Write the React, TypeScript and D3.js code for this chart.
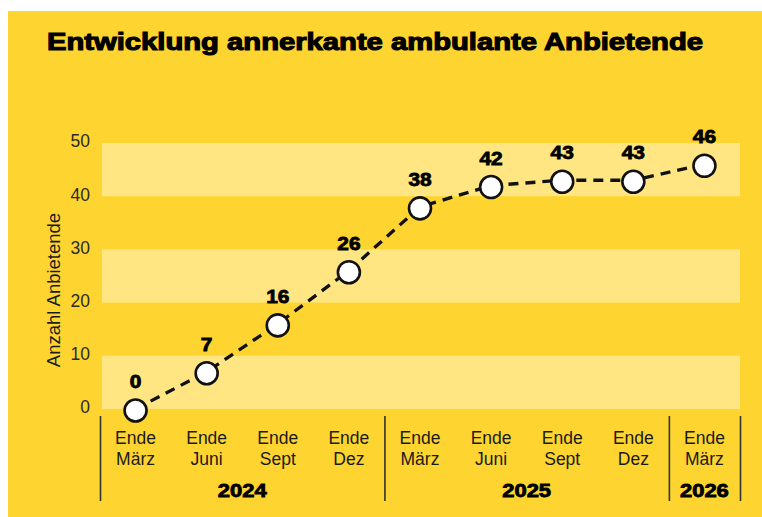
import * as d3 from 'd3';

const categories = ['2024-03', '2024-06', '2024-09', '2024-12', '2025-03', '2025-06', '2025-09', '2025-12', '2026-03'];
const monthLabels = ['März', 'Juni', 'Sept', 'Dez', 'März', 'Juni', 'Sept', 'Dez', 'März'];
const values = [0, 7, 16, 26, 38, 42, 43, 43, 46];
const yTicks = [0, 10, 20, 30, 40, 50];
const years = [
  { label: '2024', from: 0, to: 3 },
  { label: '2025', from: 4, to: 7 },
  { label: '2026', from: 8, to: 8 },
];

const W = 762;
const H = 517;
const YELLOW = '#FED530';
const LIGHT = '#FFE682';
const FONT = "'Liberation Sans', Arial, sans-serif";

export default function App() {
  const x = d3.scaleBand<string>().domain(categories).range([100, 740]).padding(0);
  const y = d3.scaleLinear().domain([0, 50]).range([409, 143]);
  const cx = (i: number) => (x(categories[i]) as number) + x.bandwidth() / 2;

  const line = d3.line<number>()
    .x((_, i) => cx(i))
    .y(d => y(d));

  // alternating light bands: 0-10, 20-30, 40-50
  const bands = [0, 20, 40];

  // year separators at group edges
  const seps = [x(categories[0]) as number];
  years.forEach(g => seps.push((x(categories[g.to]) as number) + x.bandwidth()));

  return (
    <svg width={W} height={H} style={{ position: 'absolute', left: 0, top: 0 }}>
      <rect x={0} y={0} width={W} height={H} fill="#fff" />
      <rect x={8} y={11} width={W - 8} height={H - 11} fill={YELLOW} />

      <text x={47} y={50} fontFamily={FONT} fontWeight={700} fontSize={23.5}
        textLength={656} lengthAdjust="spacingAndGlyphs" fill="#000" stroke="#000" strokeWidth={1.1}>
        Entwicklung annerkante ambulante Anbietende
      </text>

      {bands.map(b => (
        <rect key={b} x={102} width={638} y={y(b + 10)} height={y(b) - y(b + 10)} fill={LIGHT} />
      ))}

      {yTicks.map(t => (
        <text key={t} x={90} y={y(t)} dy="0.25em" textAnchor="end" fontFamily={FONT}
          fontSize={17.5} fill="#2b2b2b">{t}</text>
      ))}

      <text transform="translate(60,290) rotate(-90)" textAnchor="middle" fontFamily={FONT}
        fontSize={18.5} fill="#1a1a1a">Anzahl Anbietende</text>

      {seps.map((s, i) => (
        <line key={i} x1={s + 0.5} x2={s + 0.5} y1={416} y2={501} stroke="#333" strokeWidth={1.6} />
      ))}

      {categories.map((c, i) => (
        <text key={c} x={cx(i)} textAnchor="middle" fontFamily={FONT} fontSize={17.5} fill="#1a1a1a">
          <tspan x={cx(i)} y={444}>Ende</tspan>
          <tspan x={cx(i)} y={465}>{monthLabels[i]}</tspan>
        </text>
      ))}

      {years.map(g => {
        const mid = ((x(categories[g.from]) as number) + (x(categories[g.to]) as number) + x.bandwidth()) / 2;
        return (
          <text key={g.label} x={mid} y={497} textAnchor="middle" fontFamily={FONT} fontWeight={700}
            fontSize={17.5} fill="#000" stroke="#000" strokeWidth={0.8}
            textLength={g.label.length * 12.2} lengthAdjust="spacingAndGlyphs">{g.label}</text>
        );
      })}

      <path d={line(values) || ''} fill="none" stroke="#111" strokeWidth={3.3} strokeDasharray="10,7" />

      {values.map((v, i) => (
        <g key={i}>
          <circle cx={cx(i)} cy={y(v) + 1.5} r={11} fill="#fff" stroke="#111" strokeWidth={2.6} />
          <text x={cx(i)} y={y(v) - 21} textAnchor="middle" fontFamily={FONT} fontWeight={700}
            fontSize={17.5} fill="#000" stroke="#000" strokeWidth={0.8}
            textLength={String(v).length * 11.6} lengthAdjust="spacingAndGlyphs">{v}</text>
        </g>
      ))}
    </svg>
  );
}
